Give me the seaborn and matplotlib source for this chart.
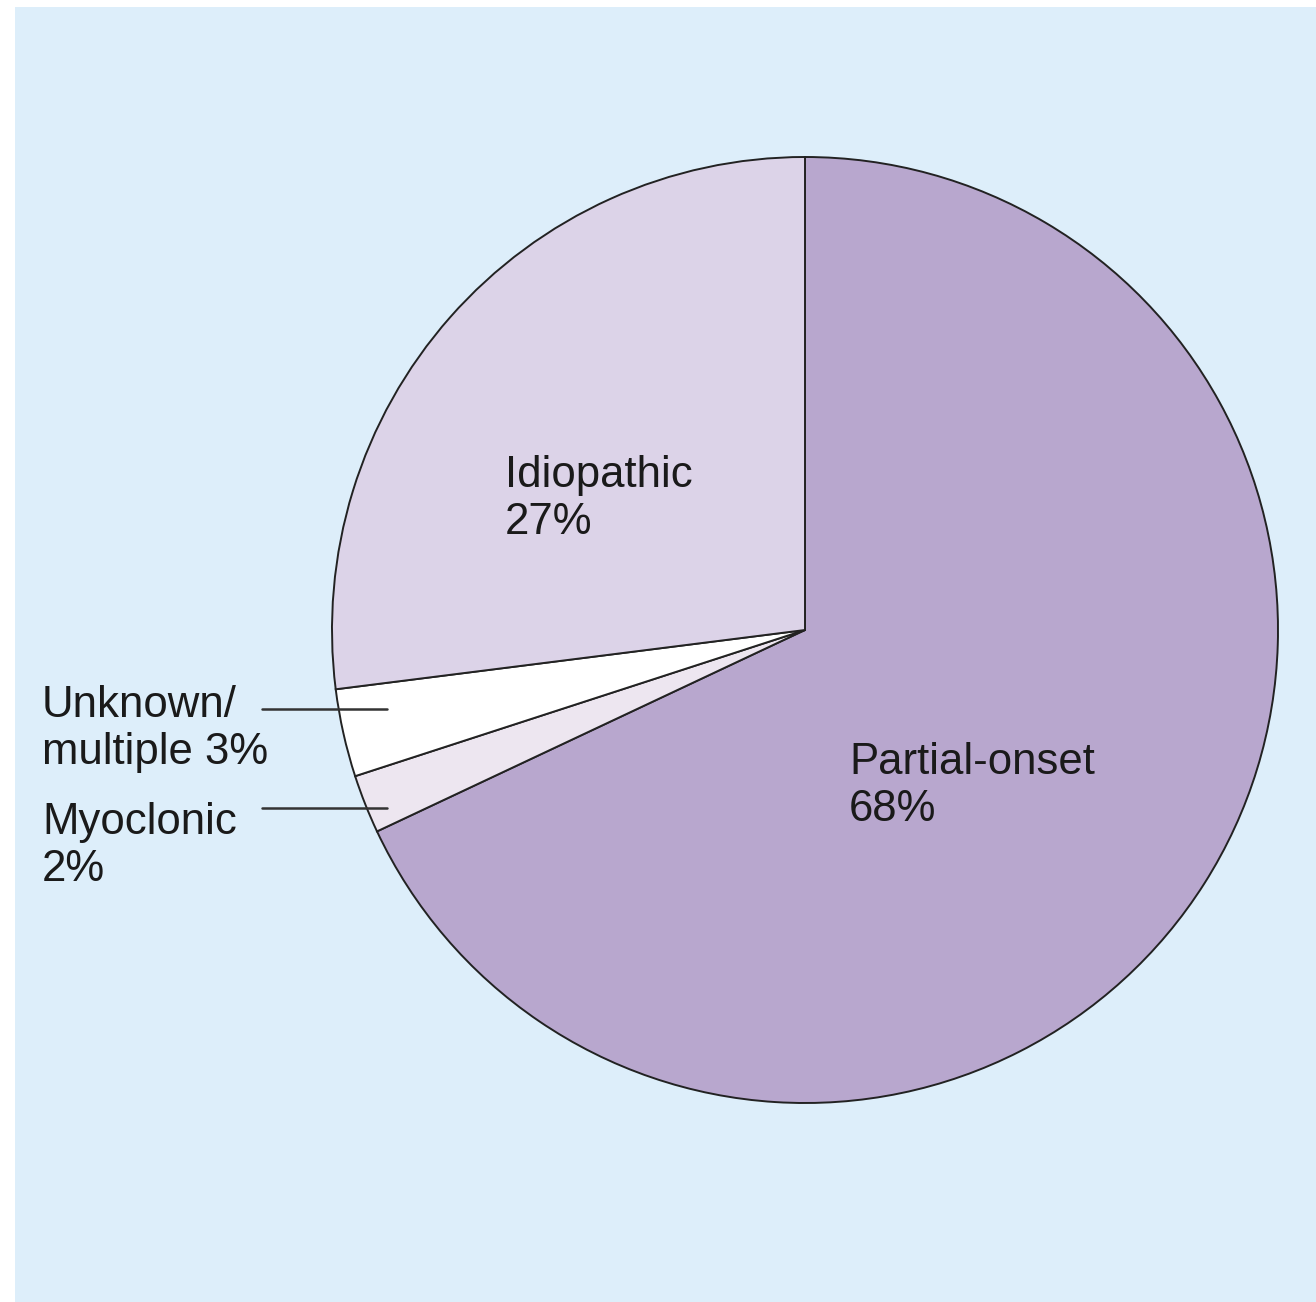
import numpy as np
import matplotlib
matplotlib.use("Agg")
import matplotlib.pyplot as plt
import seaborn as sns
from matplotlib.patches import Rectangle

# data
categories = ["Partial-onset", "Myoclonic", "Unknown/multiple", "Idiopathic"]
shares = [68, 2, 3, 27]
slice_colors = ["#b8a7ce", "#ede6f0", "#ffffff", "#dcd3e8"]

sns.set_style("white")
plt.rcParams['font.family'] = ['Liberation Sans', 'DejaVu Sans']

W, H = 1316, 1302
fig = plt.figure(figsize=(W / 100, H / 100), dpi=100, facecolor="white")
ax = fig.add_axes([0, 0, 1, 1])
ax.set_xlim(0, W)
ax.set_ylim(0, H)
ax.set_aspect("equal")
ax.axis("off")

# light blue panel
ax.add_patch(Rectangle((15, 0), W - 15, H - 7, facecolor="#ddeefa",
                       edgecolor="none", zorder=0))

cx, cy, r = 805, H - 630, 473
ax.pie(shares, colors=slice_colors, startangle=90, counterclock=False,
       center=(cx, cy), radius=r, frame=True,
       wedgeprops=dict(edgecolor="#222222", linewidth=1.4))
ax.set_xlim(0, W)
ax.set_ylim(0, H)
ax.axis("off")

# va='baseline' on multi-line text aligns the last line, so y is the 2nd baseline
fs = 31.5
txt = dict(fontsize=fs, color="#1a1a1a", ha="left", va="baseline",
           linespacing=1.2)
ax.text(505, H - 534, "Idiopathic\n27%", **txt)
ax.text(849, H - 821, "Partial-onset\n68%", **txt)
ax.text(42, H - 764, "Unknown/\nmultiple 3%", **txt)
ax.text(42, H - 881, "Myoclonic\n2%", **txt)

# leader lines
ax.plot([262, 387], [H - 709, H - 709], color="#333333", lw=1.8)
ax.plot([262, 387], [H - 808, H - 808], color="#333333", lw=1.8)

fig.savefig("out.png", dpi=100, facecolor="white")
